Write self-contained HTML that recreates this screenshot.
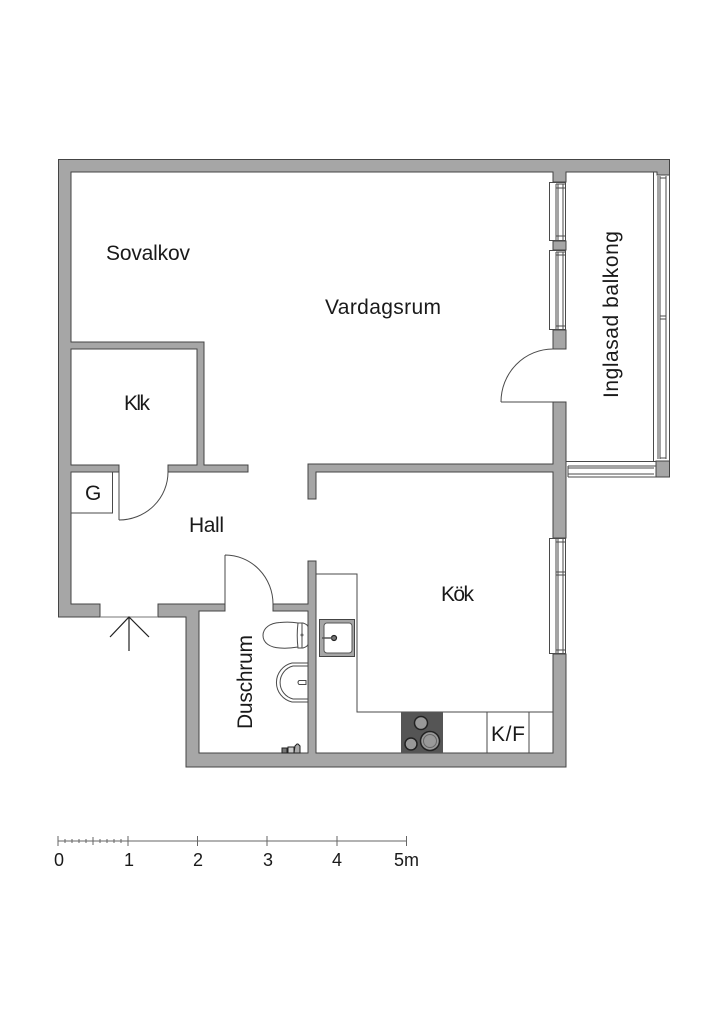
<!DOCTYPE html>
<html><head><meta charset="utf-8"><style>
html,body{margin:0;padding:0;background:#fff}
svg{display:block}
text{font-family:"Liberation Sans",sans-serif;fill:#1a1a1a}
.w{fill:#a6a6a6;stroke:#444;stroke-width:1}
.l{fill:none;stroke:#4a4a4a;stroke-width:1}
.f{fill:#fff;stroke:#4a4a4a;stroke-width:1}
</style></head><body>
<svg width="724" height="1024" viewBox="0 0 724 1024" xmlns="http://www.w3.org/2000/svg">
<rect width="724" height="1024" fill="#fff"/>
<!-- walls -->
<path class="w" d="M58.5 159.500H669.500V175H657V172H566V182H553V172H71V342H204V465H248V472H168V465H197V349H71V465H119V472H71V604H100V617H58.500Z"/>
<path class="w" d="M158 604H225V611H199V753H308V611H273V604H308V561H316V753H553V654H566V767H186V617H158Z"/>
<path class="w" d="M553 330H566V349H553Z"/>
<path class="w" d="M553 402H566V538H553V472H316V499H308V464H553Z"/>
<path class="w" d="M553 241H566V250H553Z"/>
<path class="w" d="M656 461H669.500V477H656Z"/>
<!-- left windows -->
<g class="l">
<rect class="f" x="549.500" y="182.500" width="16" height="58"/>
<path d="M556 184V240M558 184V240M563 184V240M556 184H565M556 188H565M556 236H565"/>
<rect class="f" x="549.500" y="250.500" width="16" height="79"/>
<path d="M556 252V329M558 252V329M563 252V329M556 252H565M556 255H565M556 326H565"/>
<rect class="f" x="549.500" y="538.500" width="16" height="115"/>
<path d="M556 539V653M558 539V653M563 539V653M556 542H565M556 572H565M556 575H565M556 650H565"/>
<!-- balcony right -->
<path d="M653.500 172V461M658 176V459M660 176V459M666 176V459M669.500 175V461M660 178H666M660 458H666M660 316H666M660 319H666"/>
<!-- balcony bottom -->
<path d="M566 461.500H656M568 466H656M568 468H654M568 474H654M568 477H656M568 466V477"/>
</g>
<!-- doors -->
<g class="l">
<path d="M501 402H553M501 402A52 53 0 0 1 553 349"/>
<path d="M119 472V520M119 520A49 48 0 0 0 168 472"/>
<path d="M225 604V555M225 555A48 49 0 0 1 273 604"/>
<rect x="71" y="472" width="41.500" height="41"/>
</g>
<!-- entry -->
<path d="M100 617H158" stroke="#777" stroke-width="1" fill="none"/>
<path d="M129 651V617M110 637L129 617L149 637" stroke="#222" stroke-width="1.200" fill="none"/>
<!-- kitchen -->
<path class="l" d="M316 574H357V712H553M487 712V753M529 712V753"/>
<rect x="401" y="712" width="42" height="41" fill="#555"/>
<g fill="#999" stroke="#222" stroke-width="1.500">
<circle cx="421" cy="723" r="6.500"/>
<circle cx="411" cy="744" r="6"/>
<circle cx="430" cy="741" r="9.500"/>
<circle cx="430" cy="741" r="6.500" stroke="#666" stroke-width="1"/>
</g>
<!-- sink -->
<rect x="319.500" y="619.500" width="35" height="37" fill="#a6a6a6" stroke="#444" stroke-width="1"/>
<rect x="324" y="623" width="28" height="30" rx="3" fill="#fff" stroke="#555" stroke-width="1"/>
<circle cx="334" cy="638" r="2.500" fill="#777" stroke="#222" stroke-width="1.200"/>
<path d="M322 638H332" stroke="#555" stroke-width="1.500"/>
<!-- toilet -->
<g class="l">
<path d="M298 623C292 622 286 622 280 622.500C270 623 263 628 263 635.500C263 643 270 647.500 280 648C286 648.500 292 648 298 647"/>
<path d="M298 623H303C306 624 308 625 308 627V644C308 646 306 647 303 648H298C297 640 297 631 298 623Z"/>
<path d="M302 623V648"/>
</g>
<circle cx="302" cy="635" r="1.500" fill="#666"/>
<!-- basin -->
<g class="l">
<path d="M308 663H292A20 20 0 0 0 292 702H308"/>
<path d="M308 666H293A17 17 0 0 0 293 699H308"/>
<path d="M306 680.500H299Q297 682.500 299 684.500H306Z"/>
</g>
<!-- shower fixture -->
<g fill="#777" stroke="#222" stroke-width="1">
<rect x="282" y="748" width="5" height="5"/>
<rect x="288" y="747" width="6" height="6" fill="#ccc"/>
<path d="M294 753L295 746L297 744H298L300 746V753Z" fill="#aaa"/>
</g>
<!-- labels -->
<g font-size="21">
<text x="106" y="260" textLength="84" lengthAdjust="spacing">Sovalkov</text>
<text x="325" y="314" textLength="116" lengthAdjust="spacing">Vardagsrum</text>
<text x="124" y="410" textLength="26" lengthAdjust="spacing">Klk</text>
<text x="85" y="500" textLength="16" lengthAdjust="spacing">G</text>
<text x="189" y="532" textLength="35" lengthAdjust="spacing">Hall</text>
<text x="441" y="601" textLength="33" lengthAdjust="spacing">Kök</text>
<text x="491" y="741" textLength="34" lengthAdjust="spacing">K/F</text>
<text transform="translate(252 729) rotate(-90)" textLength="94" lengthAdjust="spacing">Duschrum</text>
<text transform="translate(618 398) rotate(-90)" textLength="167" lengthAdjust="spacing">Inglasad balkong</text>
</g>
<!-- scale -->
<g stroke="#666" stroke-width="1" fill="none">
<path d="M58 841H407"/>
<path d="M58 836V846M128 836V846M197.500 836V846M267 836V846M337 836V846M406.500 836V846M93 837V845M65 839V843M72 839V843M79 839V843M86 839V843M100 839V843M107 839V843M114 839V843M121 839V843"/>
</g>
<g font-size="18">
<text x="59" y="866" text-anchor="middle">0</text>
<text x="129" y="866" text-anchor="middle">1</text>
<text x="198" y="866" text-anchor="middle">2</text>
<text x="268" y="866" text-anchor="middle">3</text>
<text x="337" y="866" text-anchor="middle">4</text>
<text x="394" y="866">5m</text>
</g>
</svg>
</body></html>
